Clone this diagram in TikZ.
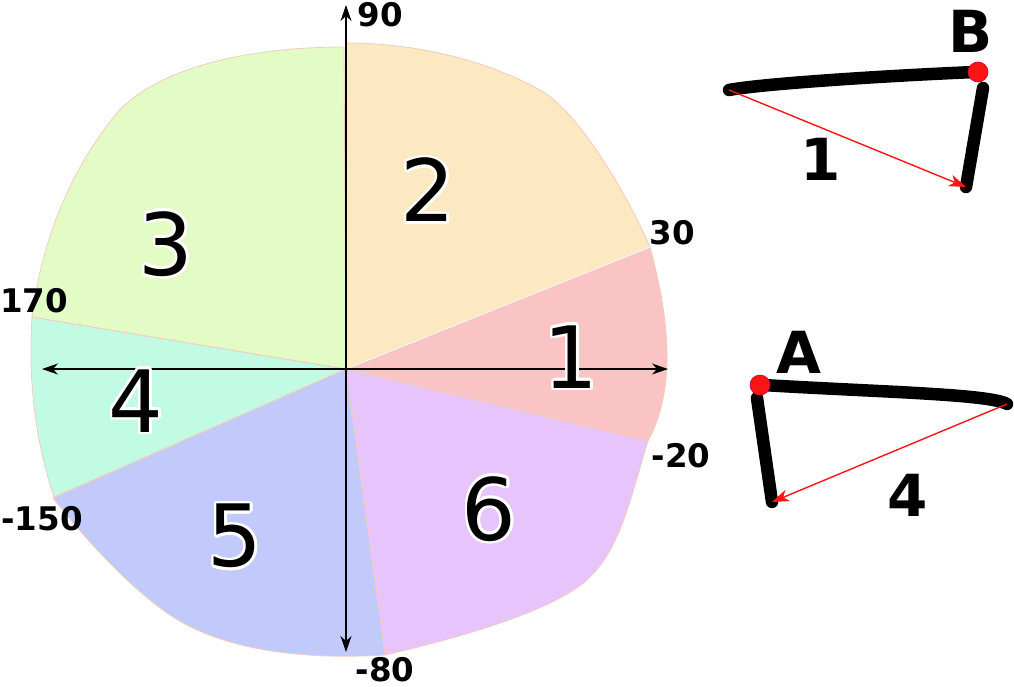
\documentclass[tikz,border=0pt]{standalone}
\usepackage{fontspec}
\setmainfont{DejaVu Sans}
\usetikzlibrary{arrows.meta,calc}
\definecolor{cyel}{HTML}{FCE9C2}
\definecolor{cpink}{HTML}{FBC4C4}
\definecolor{cviol}{HTML}{E7C4FB}
\definecolor{cblue}{HTML}{C2CAFB}
\definecolor{ccyan}{HTML}{C2FBE4}
\definecolor{cgreen}{HTML}{E3FBC4}
\definecolor{cedge}{HTML}{F2CDBE}
\definecolor{cred}{HTML}{FF1414}
\tikzset{
  sector/.style={fill=#1, draw=cedge, line width=0.8pt, line join=round},
  axis/.style={line width=1.5pt},
  anglbl/.style={inner sep=0pt, font=\fontsize{32.5}{32.5}\selectfont\bfseries},
  numlbl/.style={inner sep=0pt, font=\fontsize{86}{86}\selectfont},
  sidelbl/.style={inner sep=0pt, font=\fontsize{58}{58}\selectfont\bfseries},
  arm/.style={line width=12.5pt, line cap=round, line join=round},
  redarrow/.style={draw=cred, line width=1.4pt},
  reddot/.style={circle, fill=cred, draw=cred!60!violet, line width=0.7pt, minimum size=20pt, inner sep=0pt}
}
\newcommand\halonum[3]{%
  \foreach \a in {0,22.5,...,337.5} \node[numlbl, text=white] at ($(#2)+(\a:2.6)$) {#3};
  \node[numlbl] (#1) at (#2) {#3};}
\begin{document}
\begin{tikzpicture}[x=1pt,y=-1pt]
\useasboundingbox (0,0) rectangle (1014,686);
\coordinate (O) at (346,369);
% sectors
\path[sector=cyel] (O) -- (346,43) .. controls (420,43) and (490,62) .. (540,90)
   .. controls (580,112) and (630,200) .. (650,247) -- cycle;
\path[sector=cpink] (O) -- (650,247) .. controls (670,320) and (676,390) .. (648,441) -- cycle;
\path[sector=cviol] (O) -- (648,441) .. controls (630,500) and (620,550) .. (587,580)
   .. controls (550,613) and (450,640) .. (385,655) -- cycle;
\path[sector=cblue] (O) -- (385,655) .. controls (300,660) and (220,650) .. (167,613)
   .. controls (130,587) and (90,545) .. (53,498) -- cycle;
\path[sector=ccyan] (O) -- (54,497) .. controls (35,440) and (28,380) .. (32,317) -- cycle;
\path[sector=cgreen] (O) -- (32,317) .. controls (42,240) and (70,170) .. (117,113)
   .. controls (150,75) and (230,47) .. (344,47) -- cycle;
\draw[white, line width=0.8pt] (O) -- (650,247);
% axes
\coordinate (ytop) at (346,5);
\coordinate (ybot) at (346,652);
\coordinate (xleft) at (42,369);
\coordinate (xright) at (668,369);
\draw[axis, {Stealth[length=16pt,width=11pt,inset=5pt]}-{Stealth[length=16pt,width=11pt,inset=5pt]}] (ybot) -- (ytop);
\draw[axis, {Stealth[length=16pt,width=11pt,inset=5pt]}-{Stealth[length=16pt,width=11pt,inset=5pt]}] (xleft) -- (xright);
% angle labels
\node[anglbl] (l90) at (380,15) {90};
\node[anglbl] (l30) at (672,233) {30};
\node[anglbl] (l170) at (34,301) {170};
\node[anglbl] (l150) at (42,519) {-150};
\node[anglbl] (l80) at (385,670) {-80};
\node[anglbl] (l20) at (681,456) {-20};
% sector numbers
\halonum{n2}{428,190}{2}
\halonum{n3}{166,244}{3}
\halonum{n1}{571,357}{1}
\halonum{n4}{136,401}{4}
\halonum{n5}{235,536}{5}
\halonum{n6}{489,509}{6}
% shape B
\coordinate (b1) at (729,90);
\coordinate (b2) at (975,72);
\coordinate (b3) at (983,88);
\coordinate (b4) at (966,187);
\draw[arm] (b1) .. controls (760,84) and (880,76) .. (b2);
\draw[arm] (b3) -- (b4);
\node[reddot] (bdot) at (978,72) {};
\draw[redarrow, -{Stealth[length=17pt,width=12pt,inset=5pt]}] (b1) -- (b4);
\node[sidelbl] (lB) at (971,31) {B};
\node[sidelbl] (l1) at (821,159) {1};
% shape A
\coordinate (a1) at (763,385);
\coordinate (a2) at (1007,404);
\coordinate (a3) at (757,398);
\coordinate (a4) at (772,502);
\draw[arm] (a1) .. controls (880,392) and (990,394) .. (a2);
\draw[arm] (a3) -- (a4);
\node[reddot] (adot) at (760,385) {};
\draw[redarrow, -{Stealth[length=17pt,width=12pt,inset=5pt]}] (a2) -- (a4);
\node[sidelbl] (lA) at (799,352) {A};
\node[sidelbl] (l4) at (908,495) {4};
\end{tikzpicture}
\end{document}
